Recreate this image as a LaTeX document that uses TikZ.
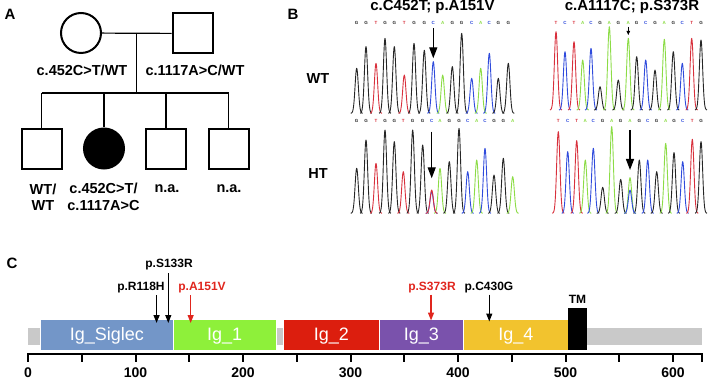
\documentclass[tikz,border=0pt]{standalone}
\usepackage{fontspec}
\setmainfont{Liberation Sans}
\usetikzlibrary{arrows.meta,positioning}

% base colours of the traces
\definecolor{baseA}{HTML}{8CDC46}
\definecolor{baseC}{HTML}{2F4BDC}
\definecolor{baseG}{HTML}{262626}
\definecolor{baseT}{HTML}{D8303C}
% domain colours
\definecolor{sigblue}{HTML}{7396C8}
\definecolor{igone}{HTML}{8EF03A}
\definecolor{igtwo}{HTML}{DC1E0E}
\definecolor{igthree}{HTML}{7A52AC}
\definecolor{igfour}{HTML}{F2C32E}
\definecolor{backbone}{HTML}{C9C9C9}
\definecolor{mutred}{HTML}{E0261E}

\tikzset{
  individual/.style={draw=black, line width=2pt, minimum size=40pt, inner sep=0pt},
  female/.style={individual, circle},
  male/.style={individual, rectangle},
  affected/.style={fill=black},
  kinline/.style={line width=1.2pt},
  lab/.style={font=\fontsize{14.5}{16.5}\selectfont\bfseries, inner sep=0pt, align=center},
  panel/.style={font=\fontsize{15}{15}\selectfont\bfseries, inner sep=0pt},
  seqtitle/.style={font=\fontsize{15}{15}\selectfont\bfseries, inner sep=0pt, anchor=base},
  basecall/.style={font=\fontsize{4.5}{4.5}\selectfont\bfseries, inner sep=0pt},
  chrom/.style={line width=0.9pt, line join=round},
  seqarrow/.style={-{Triangle[width=8pt,length=11pt]}, line width=1.3pt},
  dombox/.style={draw=white, line width=0.8pt},
  domlab/.style={font=\fontsize{18}{18}\selectfont, text=white, inner sep=0pt, anchor=base},
  mut/.style={font=\fontsize{12}{12}\selectfont\bfseries, inner sep=0pt},
  mutarrow/.style={-{Triangle[width=6pt,length=8pt]}, line width=1.3pt},
  axisline/.style={line width=2pt},
  ticklab/.style={font=\fontsize{14}{14}\selectfont\bfseries, inner sep=0pt, anchor=base},
}

\begin{document}
\begin{tikzpicture}[x=1pt, y=-1pt]
\useasboundingbox (0,0) rectangle (709,379);

% panel letters
\node[panel] (pa) at (10,14) {A};
\node[panel] (pb) at (293,14) {B};
\node[panel] (pc) at (12,263) {C};

% ---------- A: pedigree
\node[female] (mother) at (81,33) {};
\node[male] (father) at (192.5,33.5) {};
\draw[kinline] (mother) -- (father);
\coordinate (mate) at (136.5,33);
\coordinate (sibs) at (136.5,93);
\draw[kinline] (mate) -- (sibs);

\node[male] (son1) at (41.5,149.5) {};
\node[female, affected] (proband) at (104,148.5) {};
\node[male] (son2) at (166,149.5) {};
\node[male] (son3) at (228.5,149.5) {};
\draw[kinline] (son1 |- sibs) -- (son3 |- sibs);
\foreach \k in {son1, proband, son2, son3}
  \draw[kinline] (\k |- sibs) -- (\k);

\node[lab] (motherlab) at (82,70) {c.452C>T/WT};
\node[lab] (fatherlab) at (195,70) {c.1117A>C/WT};
\node[lab] (son1lab) at (43,197) {WT/\\WT};
\node[lab] (problab) at (103.5,197) {c.452C>T/\\c.1117A>C};
\node[lab] (son2lab) at (167,189) {n.a.};
\node[lab] (son3lab) at (229,189) {n.a.};

% ---------- B: sequencing traces
\node[seqtitle] (t452) at (432.5,11) {c.C452T; p.A151V};
\node[seqtitle] (t1117) at (632,11) {c.A1117C; p.S373R};
\node[lab] (wtlab) at (318,79) {WT};
\node[lab] (htlab) at (318,174) {HT};

% one peak at \px with height \h on baseline \base
\def\peak{\x,{\base-\h/exp(((\x-\px)/2.3)^2)}}

% WT, c.452
\def\base{113.3}
\foreach \px/\h/\b [count=\i] in {356.7/45/G, 366/66.7/G, 376/50/T, 385/75/G,
    394.3/66.7/G, 404.3/38.3/T, 414/70/G, 424.3/63/G, 433.3/51.7/C, 442.7/38.3/A,
    452.3/46.7/G, 461.7/80/G, 471.7/35/C, 480.7/45/A, 489.3/60/C, 498.3/35/G, 508.3/50/G}{
  \pgfmathsetmacro\lo{\px-6}\pgfmathsetmacro\hi{\px+6}
  \draw[chrom, base\b] plot[domain=\lo:\hi, samples=25, smooth] (\peak);
  \node[basecall, text=base\b] (wa-\i) at (\px,22.7) {\b};
}

% HT, c.452
\def\base{213.3}
\foreach \px/\h/\b [count=\i] in {356.7/45/G, 366/73.3/G, 376/50/T, 385/83.3/G,
    394.3/71.7/G, 403.3/41.7/T, 412.7/83.3/G, 422.7/68.3/G, 431.7/21.7/C, 440/45/A,
    449.3/51.7/G, 459/85/G, 467.7/41.7/C, 476.7/53.3/A, 485/65/C, 494/38.3/G,
    503.3/55/G, 512.7/36.7/A}{
  \pgfmathsetmacro\lo{\px-6}\pgfmathsetmacro\hi{\px+6}
  \draw[chrom, base\b] plot[domain=\lo:\hi, samples=25, smooth] (\peak);
  \node[basecall, text=base\b] (ha-\i) at (\px,121) {\b};
}
% second allele
\def\px{431.7}\def\h{23.3}
\draw[chrom, baseT] plot[domain=425.7:437.7, samples=25, smooth] (\peak);

% WT, c.1117
\def\base{110}
\foreach \px/\h/\b [count=\i] in {556/78.3/T, 565/58.3/C, 574/68.3/T, 582.7/50/A,
    591/61.7/C, 600/23.3/G, 609.3/83.3/A, 618.3/30/G, 628.3/71.7/A, 636.7/53.3/G,
    645.7/50/C, 655/40/G, 664.3/70.7/A, 673.3/58.3/G, 682.3/46.7/C, 691.7/71.7/T, 701/70/G}{
  \pgfmathsetmacro\lo{\px-6}\pgfmathsetmacro\hi{\px+6}
  \draw[chrom, base\b] plot[domain=\lo:\hi, samples=25, smooth] (\peak);
  \node[basecall, text=base\b] (wb-\i) at (\px,23.3) {\b};
}

% HT, c.1117
\def\base{213.3}
\foreach \px/\h/\b [count=\i] in {558.3/81.7/T, 567.7/61.7/C, 576.7/72.7/T, 585.3/53.3/A,
    593.3/65/C, 602.7/26/G, 611.7/86.7/A, 620.7/34/G, 630/35.7/A, 639.3/53.3/G,
    647.7/53.3/C, 656.7/41.7/G, 665.7/70/A, 674/60.7/G, 682.7/51.7/C, 692.3/74/T, 701/71.7/G}{
  \pgfmathsetmacro\lo{\px-6}\pgfmathsetmacro\hi{\px+6}
  \draw[chrom, base\b] plot[domain=\lo:\hi, samples=25, smooth] (\peak);
  \node[basecall, text=base\b] (hb-\i) at (\px,121) {\b};
}
% second allele
\def\px{630}\def\h{23.3}
\draw[chrom, baseC] plot[domain=624:636, samples=25, smooth] (\peak);

% arrows on the variant
\coordinate (wa-top) at (433.3,28.3);  \coordinate (wa-tip) at (433.3,58.3);
\coordinate (ha-top) at (431.7,131.7); \coordinate (ha-tip) at (431.7,178.3);
\coordinate (wb-top) at (628.3,26.7);  \coordinate (wb-tip) at (628.3,35);
\coordinate (hb-top) at (630,130);     \coordinate (hb-tip) at (630,170);
\draw[seqarrow] (wa-top) -- (wa-tip);
\draw[seqarrow] (ha-top) -- (ha-tip);
\draw[-{Triangle[width=3.5pt,length=4pt]}, line width=0.8pt] (wb-top) -- (wb-tip);
\draw[seqarrow] (hb-top) -- (hb-tip);

% ---------- C: protein domains (x in residues)
\begin{scope}[xshift=28pt, x=1.075pt]
\fill[backbone] (0,328) rectangle (627,345);

\draw[dombox, fill=sigblue] (11.8,319) rectangle (134.8,350);
\draw[dombox, fill=igone] (134.8,319) rectangle (231,350);
\draw[dombox, fill=igtwo] (237.5,319) rectangle (326.8,350);
\draw[dombox, fill=igthree] (326.8,319) rectangle (405,350);
\draw[dombox, fill=igfour] (405,319) rectangle (502.6,350);
\fill[black] (502.6,307.7) rectangle (519.7,350);

\node[domlab] (siglab) at (73.3,340) {Ig\_Siglec};
\node[domlab] (ig1lab) at (183,340) {Ig\_1};
\node[domlab] (ig2lab) at (282.2,340) {Ig\_2};
\node[domlab] (ig3lab) at (365.9,340) {Ig\_3};
\node[domlab] (ig4lab) at (453.8,340) {Ig\_4};
\node[mut] (tmlab) at (511.2,299) {TM};

% axis
\draw[axisline] (0,354) -- (627,354);
\foreach \t in {0,50,...,600}
  \draw[axisline] (\t,353) -- (\t,361.7);
\draw[axisline] (627,353) -- (627,361.7);
\foreach \t in {0,100,...,600}
  \node[ticklab] (tick\t) at (\t,377.5) {\t};

% variants
\node[mut] (r118) at (105.1,288) {p.R118H};
\node[mut] (s133) at (131.2,265) {p.S133R};
\node[mut, text=mutred] (a151) at (161.9,288) {p.A151V};
\node[mut, text=mutred] (s373) at (375.8,288) {p.S373R};
\node[mut] (c430) at (428.8,288) {p.C430G};
\coordinate (r118tip) at (119.6,323);
\coordinate (s133tip) at (130.5,323);
\coordinate (a151tip) at (151.3,323);
\coordinate (s373tip) at (374.9,320.5);
\coordinate (c430tip) at (429.1,321.5);
\draw[mutarrow] ([yshift=-1.5pt]r118.south -| r118tip) -- (r118tip);
\draw[mutarrow] ([yshift=-2.5pt]s133.south -| s133tip) -- (s133tip);
\draw[mutarrow, mutred] ([yshift=-1.5pt]a151.south -| a151tip) -- (a151tip);
\draw[mutarrow, mutred] ([yshift=-1pt]s373.south -| s373tip) -- (s373tip);
\draw[mutarrow] ([yshift=-1pt]c430.south -| c430tip) -- (c430tip);
\end{scope}

\end{tikzpicture}
\end{document}
